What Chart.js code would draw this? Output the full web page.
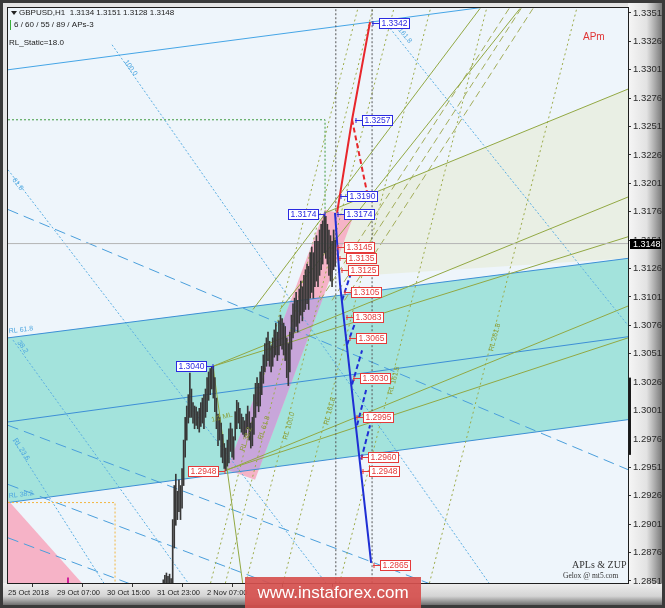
<!DOCTYPE html>
<html>
<head>
<meta charset="utf-8">
<script src="https://cdn.jsdelivr.net/npm/chart.js@4.4.0/dist/chart.umd.min.js"></script>
<style>
  html, body { margin: 0; padding: 0; background: #3a3a3a; }
  #c { display: block; }
</style>
</head>
<body>
<canvas id="c" width="665" height="608"></canvas>
<script>
// ---- data (x = H1 bar number counted from 29 Oct 07:00, y = price) ----
const firstBar = 68;
const barLows = [
  1.2840, 1.2842, 1.2845, 1.2843, 1.2846, 1.2844, 1.2848, 1.2880, 1.2900, 1.2905,
  1.2912, 1.2905, 1.2915, 1.2935, 1.2960, 1.2975, 1.2990, 1.2995, 1.2995, 1.2990,
  1.2985, 1.2988, 1.2985, 1.2982, 1.2987, 1.2990, 1.2985, 1.2995, 1.3000, 1.3010,
  1.3015, 1.3020, 1.3012, 1.3000, 1.2985, 1.2970, 1.2975, 1.2960, 1.2955, 1.2950,
  1.2948, 1.2952, 1.2955, 1.2965, 1.2960, 1.2958, 1.2975, 1.2985, 1.2990, 1.2985,
  1.2982, 1.2980, 1.2978, 1.2980, 1.2985, 1.2975, 1.2968, 1.2970, 1.2980, 1.2995,
  1.3005, 1.3000, 1.3005, 1.3015, 1.3025, 1.3035, 1.3040, 1.3045, 1.3040, 1.3035,
  1.3040, 1.3048, 1.3050, 1.3045, 1.3050, 1.3058, 1.3055, 1.3050, 1.3045, 1.3030,
  1.3023, 1.3035, 1.3055, 1.3065, 1.3070, 1.3075, 1.3070, 1.3078, 1.3085, 1.3080,
  1.3088, 1.3090, 1.3095, 1.3090, 1.3100, 1.3105, 1.3100, 1.3110, 1.3115, 1.3110,
  1.3120, 1.3125, 1.3130, 1.3140, 1.3135, 1.3130, 1.3120, 1.3115, 1.3110, 1.3125,
  1.3128
];
const barHighs = [
  1.2852, 1.2856, 1.2858, 1.2855, 1.2857, 1.2853, 1.2905, 1.2935, 1.2945, 1.2930,
  1.2940, 1.2935, 1.2950, 1.2975, 1.2995, 1.3005, 1.3015, 1.3034, 1.3020, 1.3008,
  1.3005, 1.3004, 1.3000, 1.3003, 1.3008, 1.3012, 1.3015, 1.3020, 1.3030, 1.3035,
  1.3038, 1.3040, 1.3040, 1.3030, 1.3012, 1.2998, 1.2995, 1.2990, 1.2980, 1.2972,
  1.2968, 1.2975, 1.2985, 1.2990, 1.2985, 1.2978, 1.3000, 1.3010, 1.3008, 1.3003,
  1.2998, 1.2995, 1.2992, 1.2998, 1.3005, 1.3000, 1.2990, 1.2995, 1.3015, 1.3025,
  1.3030, 1.3025, 1.3035, 1.3040, 1.3050, 1.3060, 1.3065, 1.3070, 1.3062, 1.3058,
  1.3065, 1.3072, 1.3078, 1.3070, 1.3080, 1.3085, 1.3082, 1.3078, 1.3075, 1.3065,
  1.3060, 1.3070, 1.3085, 1.3095, 1.3100, 1.3105, 1.3098, 1.3108, 1.3115, 1.3110,
  1.3120, 1.3125, 1.3130, 1.3128, 1.3140, 1.3145, 1.3140, 1.3150, 1.3155, 1.3150,
  1.3160, 1.3165, 1.3168, 1.3174, 1.3172, 1.3165, 1.3160, 1.3155, 1.3150, 1.3160,
  1.3151
];
const lastPrice = 1.3148;

const priceTicks = [1.2851, 1.2876, 1.2901, 1.2926, 1.2951, 1.2976, 1.3001, 1.3026, 1.3051, 1.3076,
  1.3101, 1.3126, 1.3151, 1.3176, 1.3201, 1.3226, 1.3251, 1.3276, 1.3301, 1.3326, 1.3351];
const dateTicks = [-31.4, 0, 32, 64, 96, 128, 160];
const dateLabels = ["25 Oct 2018", "29 Oct 07:00", "30 Oct 15:00", "31 Oct 23:00", "2 Nov 07:00", "5 Nov 15:00", "6 Nov 23:00"];

// channel and zones
const channelTop = [[-31.4, 1.3065], [365.4, 1.3135]];
const channelMid = [[-31.4, 1.2991], [365.4, 1.3066]];
const channelBottom = [[-31.4, 1.2920], [365.4, 1.2993]];
const pinkWedge = [[108.8, 1.2949], [171.5, 1.3178], [189.4, 1.3171], [126.7, 1.2940]];
const pinkCorner = [[-31.4, 1.2922], [16.0, 1.2849], [-31.4, 1.2849]];
const forkZone = [[171.5, 1.3175], [365.4, 1.3284], [365.4, 1.3135], [186.0, 1.3119]];

// trend lines
const topLine = [[-31.4, 1.3301], [283.5, 1.3358]];
const fanDotted = [
  [[209.9, 1.3343], [365.4, 1.3076]],
  [[35.2, 1.3323], [276.5, 1.2849]],
  [[-31.4, 1.3213], [172.2, 1.2849]],
  [[-28.2, 1.3063], [84.0, 1.2849]],
  [[-28.2, 1.2975], [30.0, 1.2849]]
];
const longDashed = [
  [[-31.4, 1.3178], [365.4, 1.2949]],
  [[-31.4, 1.2988], [365.4, 1.2783]],
  [[-31.4, 1.2936], [365.4, 1.2730]],
  [[-31.4, 1.2889], [365.4, 1.2683]]
];
const forkSolid = [
  [[99.8, 1.3040], [365.4, 1.3189]],
  [[171.5, 1.3175], [365.4, 1.3284]],
  [[109.4, 1.2949], [365.4, 1.3093]],
  [[99.8, 1.3040], [365.4, 1.3154]],
  [[108.8, 1.2949], [365.4, 1.3065]],
  [[99.8, 1.3040], [120.3, 1.2834]],
  [[125.4, 1.3090], [270.7, 1.3355]],
  [[142.7, 1.3090], [296.3, 1.3355]]
];
const forkDashed = [
  [[168.3, 1.3098], [289.3, 1.3355]],
  [[176.0, 1.3098], [297.0, 1.3355]],
  [[184.0, 1.3098], [304.6, 1.3355]]
];
const rlDotted = [
  [[98.2, 1.2849], [192.5, 1.3355]],
  [[107.7, 1.2849], [202.1, 1.3355]],
  [[120.7, 1.2849], [215.6, 1.3355]],
  [[144.6, 1.2849], [239.0, 1.3355]],
  [[180.7, 1.2849], [274.9, 1.3355]],
  [[238.3, 1.2849], [332.6, 1.3355]]
];
const greenStep = [[-31.4, 1.3257], [171.5, 1.3257], [171.5, 1.3175]];
const orangeStep = [[-31.4, 1.2920], [37.1, 1.2920], [37.1, 1.2849]];
const timeMarks = [178.4, 201.6];
const spreadMark = [1.3030, 1.2962];

// ZUP zigzag
const zupRed = [[179.2, 1.3175], [188.8, 1.3257], [200.3, 1.3343]];
const zupRedDash = [[188.8, 1.3257], [199.0, 1.3189]];
const zupBlue = [[177.9, 1.3175], [181.1, 1.3112], [201.0, 1.2867]];
const zupBlueDash = [
  [[182.4, 1.3098], [188.8, 1.3125]],
  [[185.6, 1.3059], [192.6, 1.3085]],
  [[188.8, 1.3024], [195.2, 1.3054]],
  [[192.0, 1.2988], [197.8, 1.3019]],
  [[194.6, 1.2958], [200.3, 1.2988]]
];

// price labels: [bar, price, side]  side 1 = box right of point, -1 = left
const blueTargets = [
  [201.6, 1.3342, 1], [190.7, 1.3257, 1], [181.1, 1.3190, 1], [179.2, 1.3174, 1],
  [171.5, 1.3174, -1], [99.8, 1.3040, -1]
];
const redTargets = [
  [179.2, 1.3145, 1], [180.5, 1.3135, 1], [181.8, 1.3125, 1], [183.7, 1.3105, 1],
  [185.0, 1.3083, 1], [186.9, 1.3065, 1], [189.4, 1.3030, 1], [191.4, 1.2995, 1],
  [194.6, 1.2960, 1], [195.2, 1.2948, 1], [202.2, 1.2865, 1], [107.5, 1.2948, -1]
];

// level captions: [text, bar, price, angle]
const fanCaptions = [
  ["161.8", 218.2, 1.3336, 51], ["100.0", 42.9, 1.3308, 55], ["61.8", -28.8, 1.3204, 52],
  ["RL 61.8", -30.7, 1.3069, -7], ["38.2", -25.6, 1.3061, 55], ["RL 23.6", -28.2, 1.2975, 57],
  ["RL 38.2", -30.7, 1.2924, -7]
];
const forkCaptions = [
  ["1/2 ML", 99.2, 1.2991, -15], ["RL 38.2", 119.7, 1.2965, -72], ["RL 61.8", 131.2, 1.2975, -72],
  ["RL 100.0", 147.2, 1.2975, -75], ["RL 161.8", 173.4, 1.2988, -75], ["RL 161.8", 214.4, 1.3015, -75],
  ["RL 261.8", 279.0, 1.3053, -75]
];

// ---- helpers ----
const FONT = '"Liberation Sans", Arial, sans-serif';
const pts = arr => arr.map(p => ({ x: p[0], y: p[1] }));
function lineSet(points, color, dash, width, order) {
  return {
    type: 'line', data: pts(points), borderColor: color, borderWidth: width || 1,
    borderDash: dash || [], pointRadius: 0, fill: false, tension: 0, order: order || 10
  };
}

const datasets = [];
datasets.push(lineSet(topLine, '#45a5e6', [], 1, 20));
datasets.push(lineSet(channelTop, '#3d8fd6', [], 1, 20));
datasets.push(lineSet(channelMid, '#3d8fd6', [], 1, 20));
datasets.push(lineSet(channelBottom, '#3d8fd6', [], 1, 20));
fanDotted.forEach(s => datasets.push(lineSet(s, '#5aaee3', [2, 2], 1, 20)));
longDashed.forEach(s => datasets.push(lineSet(s, '#4a9fdc', [11, 6], 1, 20)));
forkSolid.forEach(s => datasets.push(lineSet(s, '#92a843', [], 1, 18)));
forkDashed.forEach(s => datasets.push(lineSet(s, '#a3ad5a', [7, 4], 1, 18)));
rlDotted.forEach(s => datasets.push(lineSet(s, '#9cab4a', [2, 3], 1, 18)));
datasets.push(lineSet(greenStep, '#3f9a3f', [2, 2], 1, 18));
datasets.push(lineSet(orangeStep, '#f2b640', [2, 2], 1, 18));
timeMarks.forEach(b => datasets.push(lineSet([[b, 1.2849], [b, 1.3356]], '#555555', [2, 2], 1, 15)));
datasets.push(lineSet([[-31.4, lastPrice], [365.4, lastPrice]], '#b4b4b4', [], 1, 16));
datasets.push({
  type: 'bar', order: 8, backgroundColor: '#383838', borderWidth: 0, barThickness: 1,
  data: barLows.map((lo, i) => ({ x: firstBar + i, y: [lo, barHighs[i]] }))
});
datasets.push(lineSet(zupRed, '#e8262b', [], 2, 2));
datasets.push(lineSet(zupRedDash, '#e8262b', [5, 3], 2, 2));
datasets.push(lineSet(zupBlue, '#1f2fd4', [], 2, 2));
zupBlueDash.forEach(s => datasets.push(lineSet(s, '#1f2fd4', [5, 3], 2, 2)));
datasets.push(lineSet([[7, 1.2848], [7, 1.2854]], '#d0209a', [], 2, 2));

// ---- plugins ----
const framePlugin = {
  id: 'frame',
  beforeDraw(chart) {
    const { ctx, chartArea: a, width: W, height: H } = chart;
    ctx.save();
    ctx.fillStyle = '#3a3a3a';
    ctx.fillRect(0, 0, W, H);
    ctx.fillStyle = '#e4e4e4';
    ctx.fillRect(3, 3, W - 6, H - 6);
    let g = ctx.createLinearGradient(a.right, 0, W - 3, 0);
    g.addColorStop(0, '#f6f6f6');
    g.addColorStop(0.55, '#e2e2e2');
    g.addColorStop(1, '#7a7a7a');
    ctx.fillStyle = g;
    ctx.fillRect(a.right, 3, W - 3 - a.right, H - 6);
    g = ctx.createLinearGradient(0, a.bottom, 0, H - 3);
    g.addColorStop(0, '#efefef');
    g.addColorStop(0.6, '#d4d4d4');
    g.addColorStop(1, '#6e6e6e');
    ctx.fillStyle = g;
    ctx.fillRect(3, a.bottom, W - 6, H - 3 - a.bottom);
    ctx.fillStyle = '#eef5fb';
    ctx.fillRect(a.left, a.top, a.width, a.height);
    ctx.strokeStyle = '#1e1e1e';
    ctx.lineWidth = 1;
    ctx.strokeRect(a.left - 0.5, a.top - 0.5, a.width + 1, a.height + 1);
    ctx.restore();
  }
};

const zonePlugin = {
  id: 'zones',
  beforeDatasetsDraw(chart) {
    const { ctx, chartArea: a, scales: { x, y } } = chart;
    const path = list => {
      ctx.beginPath();
      list.forEach((p, i) => {
        const u = x.getPixelForValue(p[0]), v = y.getPixelForValue(p[1]);
        i ? ctx.lineTo(u, v) : ctx.moveTo(u, v);
      });
      ctx.closePath();
    };
    const channel = [channelTop[0], channelTop[1], channelBottom[1], channelBottom[0]];
    ctx.save();
    ctx.beginPath();
    ctx.rect(a.left, a.top, a.width, a.height);
    ctx.clip();
    path(forkZone);
    ctx.fillStyle = '#e9efe4';
    ctx.fill();
    path(channel);
    ctx.fillStyle = '#a3e3dc';
    ctx.fill();
    path(pinkWedge);
    ctx.fillStyle = '#f6b3c7';
    ctx.fill();
    ctx.save();
    path(channel);
    ctx.clip();
    path(pinkWedge);
    ctx.fillStyle = '#c8a6da';
    ctx.fill();
    ctx.restore();
    path(pinkCorner);
    ctx.fillStyle = '#f6b3c7';
    ctx.fill();
    ctx.restore();
  }
};

const textPlugin = {
  id: 'texts',
  afterDatasetsDraw(chart) {
    const { ctx, chartArea: a, scales: { x, y } } = chart;
    ctx.save();
    ctx.beginPath();
    ctx.rect(a.left, a.top, a.width, a.height);
    ctx.clip();

    const caption = (list, color) => {
      ctx.fillStyle = color;
      ctx.font = '7px ' + FONT;
      ctx.textAlign = 'left';
      ctx.textBaseline = 'alphabetic';
      list.forEach(([t, b, p, ang]) => {
        ctx.save();
        ctx.translate(x.getPixelForValue(b), y.getPixelForValue(p));
        ctx.rotate(ang * Math.PI / 180);
        ctx.fillText(t, 0, 0);
        ctx.restore();
      });
    };
    caption(fanCaptions, '#4da6e0');
    caption(forkCaptions, '#8a9c32');

    const tag = (list, color) => {
      ctx.font = '8.5px ' + FONT;
      ctx.textBaseline = 'middle';
      ctx.textAlign = 'left';
      list.forEach(([b, p, side]) => {
        const u = Math.round(x.getPixelForValue(b)), v = Math.round(y.getPixelForValue(p));
        const txt = p.toFixed(4);
        const w = Math.ceil(ctx.measureText(txt).width) + 4, h = 10;
        const bx = side > 0 ? u + 7 : u - 7 - w;
        ctx.strokeStyle = color;
        ctx.lineWidth = 1;
        ctx.beginPath();
        ctx.moveTo(u, v + 0.5);
        ctx.lineTo(side > 0 ? bx : bx + w, v + 0.5);
        ctx.moveTo(u + 0.5 * side + 0.5, v - 2);
        ctx.lineTo(u + 0.5 * side + 0.5, v + 3);
        ctx.stroke();
        ctx.fillStyle = '#ffffff';
        ctx.fillRect(bx, v - h / 2, w, h);
        ctx.strokeRect(bx + 0.5, v - h / 2 + 0.5, w, h);
        ctx.fillStyle = color;
        ctx.fillText(txt, bx + 2.5, v + 1);
      });
    };
    tag(blueTargets, '#2a2ae0');
    tag(redTargets, '#e43a3a');

    // header
    ctx.fillStyle = '#222';
    ctx.font = '8px ' + FONT;
    ctx.textBaseline = 'middle';
    ctx.textAlign = 'left';
    ctx.beginPath();
    ctx.moveTo(a.left + 3, a.top + 3);
    ctx.lineTo(a.left + 9, a.top + 3);
    ctx.lineTo(a.left + 6, a.top + 7);
    ctx.closePath();
    ctx.fill();
    ctx.fillText('GBPUSD,H1  1.3134 1.3151 1.3128 1.3148', a.left + 11, a.top + 5);
    ctx.fillText('6 / 60 / 55 / 89 / APs-3', a.left + 6, a.top + 17);
    ctx.fillText('RL_Static=18.0', a.left + 1, a.top + 35);
    ctx.fillStyle = '#3ab03a';
    ctx.fillRect(a.left + 2, a.top + 12, 1, 10);
    ctx.fillStyle = '#e03535';
    ctx.font = '10px ' + FONT;
    ctx.fillText('APm', a.right - 45, a.top + 29);
    ctx.fillStyle = '#333';
    ctx.font = '10px "Liberation Serif", serif';
    ctx.fillText('APLs & ZUP', a.right - 56, a.bottom - 18);
    ctx.font = '7.5px "Liberation Serif", serif';
    ctx.fillText('Gelox @ mt5.com', a.right - 65, a.bottom - 7);
    ctx.restore();
  },
  afterDraw(chart) {
    const { ctx, chartArea: a, scales: { y } } = chart;
    ctx.save();
    // current price box on the scale
    const v = Math.round(y.getPixelForValue(lastPrice));
    ctx.fillStyle = '#000';
    ctx.fillRect(a.right + 2, v - 5, 31, 10);
    ctx.fillStyle = '#fff';
    ctx.font = '9px ' + FONT;
    ctx.textBaseline = 'middle';
    ctx.textAlign = 'left';
    ctx.fillText(lastPrice.toFixed(4), a.right + 5, v + 0.5);
    // spread marker on the scale
    const t = y.getPixelForValue(spreadMark[0]), b = y.getPixelForValue(spreadMark[1]);
    ctx.fillStyle = '#1a1a1a';
    ctx.fillRect(a.right + 1, t, 2, b - t);
    // watermark
    ctx.globalAlpha = 0.92;
    ctx.fillStyle = '#d6504e';
    ctx.fillRect(245, 577, 176, 31);
    ctx.globalAlpha = 1;
    ctx.fillStyle = '#ffffff';
    ctx.font = '17px ' + FONT;
    ctx.textAlign = 'center';
    ctx.fillText('www.instaforex.com', 333, 593);
    ctx.restore();
  }
};

new Chart(document.getElementById('c'), {
  type: 'line',
  data: { datasets },
  options: {
    responsive: false,
    animation: false,
    events: [],
    layout: { padding: { top: 8, left: 8, right: 0, bottom: 0 } },
    plugins: { legend: { display: false }, tooltip: { enabled: false } },
    scales: {
      x: {
        type: 'linear', min: -31.4, max: 365.4, offset: false,
        afterBuildTicks: s => { s.ticks = dateTicks.map(v => ({ value: v })); },
        afterFit: s => { s.height = 25; },
        ticks: {
          autoSkip: false, maxRotation: 0, align: 'start', padding: 1,
          color: '#1e1e1e', font: { family: FONT, size: 7.5 },
          callback: (v, i) => dateLabels[i]
        },
        grid: { drawOnChartArea: false, drawTicks: true, tickLength: 4, color: '#333' },
        border: { color: '#1e1e1e' }
      },
      y: {
        type: 'linear', position: 'right', min: 1.28492, max: 1.33554,
        afterBuildTicks: s => { s.ticks = priceTicks.map(v => ({ value: v })); },
        afterFit: s => { s.width = 37; },
        ticks: {
          padding: 2, color: '#2a2a2a', font: { family: FONT, size: 9.5 },
          callback: v => v.toFixed(4)
        },
        grid: { drawOnChartArea: false, drawTicks: true, tickLength: 3, color: '#333' },
        border: { color: '#1e1e1e' }
      }
    }
  },
  plugins: [framePlugin, zonePlugin, textPlugin]
});
</script>
</body>
</html>
